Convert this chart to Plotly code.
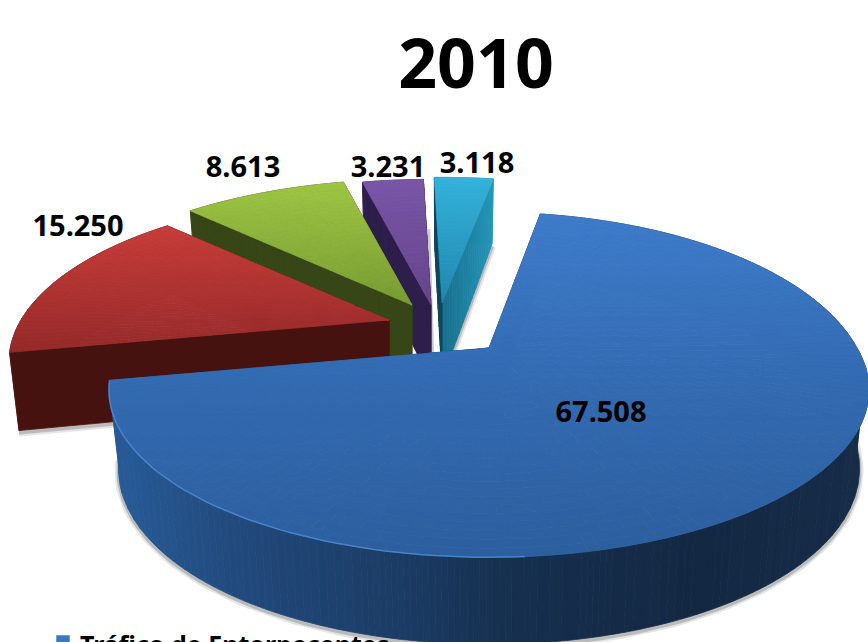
import math
import plotly.graph_objects as go

# ---- data (clockwise from the blue slice) ----
title_text = "2010"
legend_label = "Tráfico de Entorpecentes"
slice_names = ["Tráfico de Entorpecentes", "Outros 1", "Outros 2", "Outros 3", "Outros 4"]
slice_values = [67.508, 15.250, 8.613, 3.231, 3.118]

# ---- styles / layout, kept apart from the data ----
W, H = 868, 642
START_DEG = 10.0       # clockwise from the back of the pie
R, T, K = 368.0, 157.0, 0.25   # radius, tilt, perspective
BOTTOM_SCALE = 0.975
apex = [(489, 348), (389, 320), (412, 305), (431, 305), (442, 303)]
back_scale = [1.08, 1.0, 1.0, 1.0, 1.0]
top_stops = [
    [(212, (62, 124, 203)), (400, (50, 105, 175)), (560, (44, 94, 158))],
    [(225, (200, 62, 58)), (350, (150, 42, 42))],
    [(183, (158, 198, 68)), (305, (120, 155, 50))],
    [(180, (122, 86, 168)), (305, (100, 68, 138))],
    [(180, (52, 178, 218)), (300, (32, 135, 175))],
]
side_stops = [
    [(108, (40, 92, 152)), (250, (33, 72, 122)), (400, (27, 60, 100)), (500, (22, 48, 80)),
     (700, (19, 40, 66)), (860, (22, 44, 72))],
    [(0, (70, 18, 15)), (400, (70, 18, 15))],
    [(0, (55, 70, 22)), (430, (55, 70, 22))],
    [(0, (45, 30, 75)), (440, (45, 30, 75))],
    [(445, (24, 112, 142)), (495, (38, 152, 188))],
]
label_pos = [(601, 415), (78, 229), (243, 170), (388, 170), (477, 166)]
LABEL_SIZE = 29


def lerp_color(stops, t):
    if t <= stops[0][0]:
        return stops[0][1]
    for (a, ca), (b, cb) in zip(stops, stops[1:]):
        if t <= b:
            f = (t - a) / (b - a)
            return tuple(ca[i] + (cb[i] - ca[i]) * f for i in range(3))
    return stops[-1][1]


def key(c):
    return "rgb(%d,%d,%d)" % tuple(int(round(v)) for v in c)


def top_pt(a, r, deg, scale=1.0):
    """Screen position of a point on the slice's top face."""
    th = math.radians(deg)
    u, v = r * math.sin(th), r * math.cos(th)
    w = 1 + K * v
    ky = scale if v > 0 else 1.0
    return a[0] + R * u / w, a[1] - T * ky * v / w


def bot_pt(a, r, deg, scale=1.0):
    th = math.radians(deg)
    v = r * math.cos(th)
    x, y = top_pt(a, r, deg, scale)
    return a[0] + (x - a[0]) * BOTTOM_SCALE, y + 76 - 11 * v


def same_winding(p):
    area = sum(p[k][0] * p[(k + 1) % len(p)][1] - p[(k + 1) % len(p)][0] * p[k][1]
               for k in range(len(p)))
    return p if area >= 0 else p[::-1]


def add_buckets(fig, buckets):
    for col, polys in buckets.items():
        xs, ys = [], []
        for p in polys:
            p = same_winding(p)
            xs += [q[0] for q in p] + [p[0][0], None]
            ys += [q[1] for q in p] + [p[0][1], None]
        fig.add_trace(go.Scatter(x=xs, y=ys, mode="lines", fill="toself", fillcolor=col,
                                 line=dict(color=col, width=0.8), hoverinfo="skip",
                                 showlegend=False))


def add_line(fig, pts, color, width):
    fig.add_trace(go.Scatter(x=[p[0] for p in pts], y=[p[1] for p in pts], mode="lines",
                             line=dict(color=color, width=width), hoverinfo="skip",
                             showlegend=False))


def add_shadow(fig, pts):
    shifted = [(x, y + 2) for x, y in pts]
    add_line(fig, shifted, "rgba(110,110,110,0.18)", 8)
    add_line(fig, shifted, "rgba(110,110,110,0.35)", 4)


total = sum(slice_values)
# clockwise angular spans: blue begins at START_DEG, the others follow it
spans = []
ang = START_DEG
for val in slice_values:
    d = 360.0 * val / total
    spans.append((ang, ang + d))
    ang += d

fig = go.Figure()

# paint the back slices first, blue last
for i in [4, 3, 2, 1, 0]:
    a = apex[i]
    bs = back_scale[i]
    a0, a1 = spans[i]
    n = max(8, int((a1 - a0) / 1.5))
    angs = [a0 + (a1 - a0) * j / n for j in range(n + 1)]
    fine_n = n * 4
    fine = [a0 + (a1 - a0) * j / fine_n for j in range(fine_n + 1)]

    # soft ground shadows
    if i == 0:
        add_shadow(fig, [bot_pt(a, 1, d, bs) for d in angs if d > 60])
    elif i == 1:
        add_shadow(fig, [bot_pt(a, 1, a0), bot_pt(a, 0, 0)])
    elif i == 4:
        add_shadow(fig, [bot_pt(a, 1, a1), bot_pt(a, 0, 0)])
    elif i == 3:
        add_line(fig, [(p[0] + 2, p[1]) for p in (bot_pt(a, 0, 0), top_pt(a, 0.55, a1))],
                 "rgba(110,110,110,0.35)", 4)

    side = {}
    # outer wall: bands about 6 px wide on the page
    run = [fine[0]]
    for d in fine[1:]:
        run.append(d)
        if abs(top_pt(a, 1, run[-1], bs)[0] - top_pt(a, 1, run[0], bs)[0]) >= 6 or d == fine[-1]:
            q = [top_pt(a, 1, e, bs) for e in run] + [bot_pt(a, 1, e, bs) for e in reversed(run)]
            mx = sum(p[0] for p in q) / len(q)
            side.setdefault(key(lerp_color(side_stops[i], mx)), []).append(q)
            run = [d]
    # radial walls
    for d in (a0, a1):
        m = 24
        for j in range(m):
            r0, r1 = j / m, (j + 1) / m
            q = [top_pt(a, r0, d, bs), top_pt(a, r1, d, bs), bot_pt(a, r1, d, bs), bot_pt(a, r0, d, bs)]
            mx = sum(p[0] for p in q) / 4
            # the narrow left wall of the cyan slice stays dark
            col = (16, 70, 92) if (i == 4 and d == a0) else lerp_color(side_stops[i], mx)
            side.setdefault(key(col), []).append(q)
    add_buckets(fig, side)

    # top face, split into cells coloured by their height on the page;
    # cells near the apex are merged so they do not get too thin
    top = {}
    rings = 30
    for j in range(rings):
        step = 8 if j < 2 else 4 if j < 5 else 2 if j < 10 else 1
        r0, r1 = j / rings, (j + 1) / rings
        ring_angs = angs[::step]
        if ring_angs[-1] != angs[-1]:
            ring_angs.append(angs[-1])
        for d0, d1 in zip(ring_angs, ring_angs[1:]):
            q = [top_pt(a, r0, d0, bs), top_pt(a, r1, d0, bs), top_pt(a, r1, d1, bs), top_pt(a, r0, d1, bs)]
            my = sum(p[1] for p in q) / 4
            top.setdefault(key(lerp_color(top_stops[i], my)), []).append(q)
    add_buckets(fig, top)

    if i == 0:  # thin bright rim along the near-left edge
        rim = [top_pt(a, 1, d, bs) for d in angs if 175 < d]
        add_line(fig, rim, "rgba(78,140,212,0.8)", 1.5)

# value labels
fig.add_trace(go.Scatter(
    x=[p[0] for p in label_pos], y=[p[1] for p in label_pos], mode="text",
    text=["<b>%.3f</b>" % v for v in slice_values], textposition="middle center",
    textfont=dict(family="Noto Sans", size=LABEL_SIZE, color="#000000"),
    hoverinfo="skip", showlegend=False))

# legend swatch, cut by the bottom of the picture as in the source
fig.add_trace(go.Scatter(x=[63], y=[642], mode="markers",
                         marker=dict(symbol="square", size=13, color="#3a78c4",
                                     line=dict(color="#6c9bd8", width=1)),
                         hoverinfo="skip", showlegend=False))
fig.add_annotation(x=78 / W, y=-2 / H, xref="paper", yref="paper", xanchor="left", yanchor="middle",
                   text="<b>%s</b>" % legend_label, showarrow=False,
                   font=dict(family="Noto Sans", size=25, color="#000000"))

fig.update_layout(
    width=W, height=H, margin=dict(l=0, r=0, t=0, b=0),
    paper_bgcolor="#ffffff", plot_bgcolor="#ffffff", showlegend=False,
    title=dict(text="<b>%s</b>" % title_text, x=476 / W, y=1 - 64 / H, xanchor="center", yanchor="middle",
               xref="paper", yref="paper", font=dict(family="Noto Sans", size=68, color="#000000")),
    xaxis=dict(range=[0, W], visible=False, fixedrange=True),
    yaxis=dict(range=[H, 0], visible=False, fixedrange=True),
)
fig.write_html("out.html", config={"displayModeBar": False},
               post_script="document.body.style.margin='0';document.body.style.overflow='hidden';")
